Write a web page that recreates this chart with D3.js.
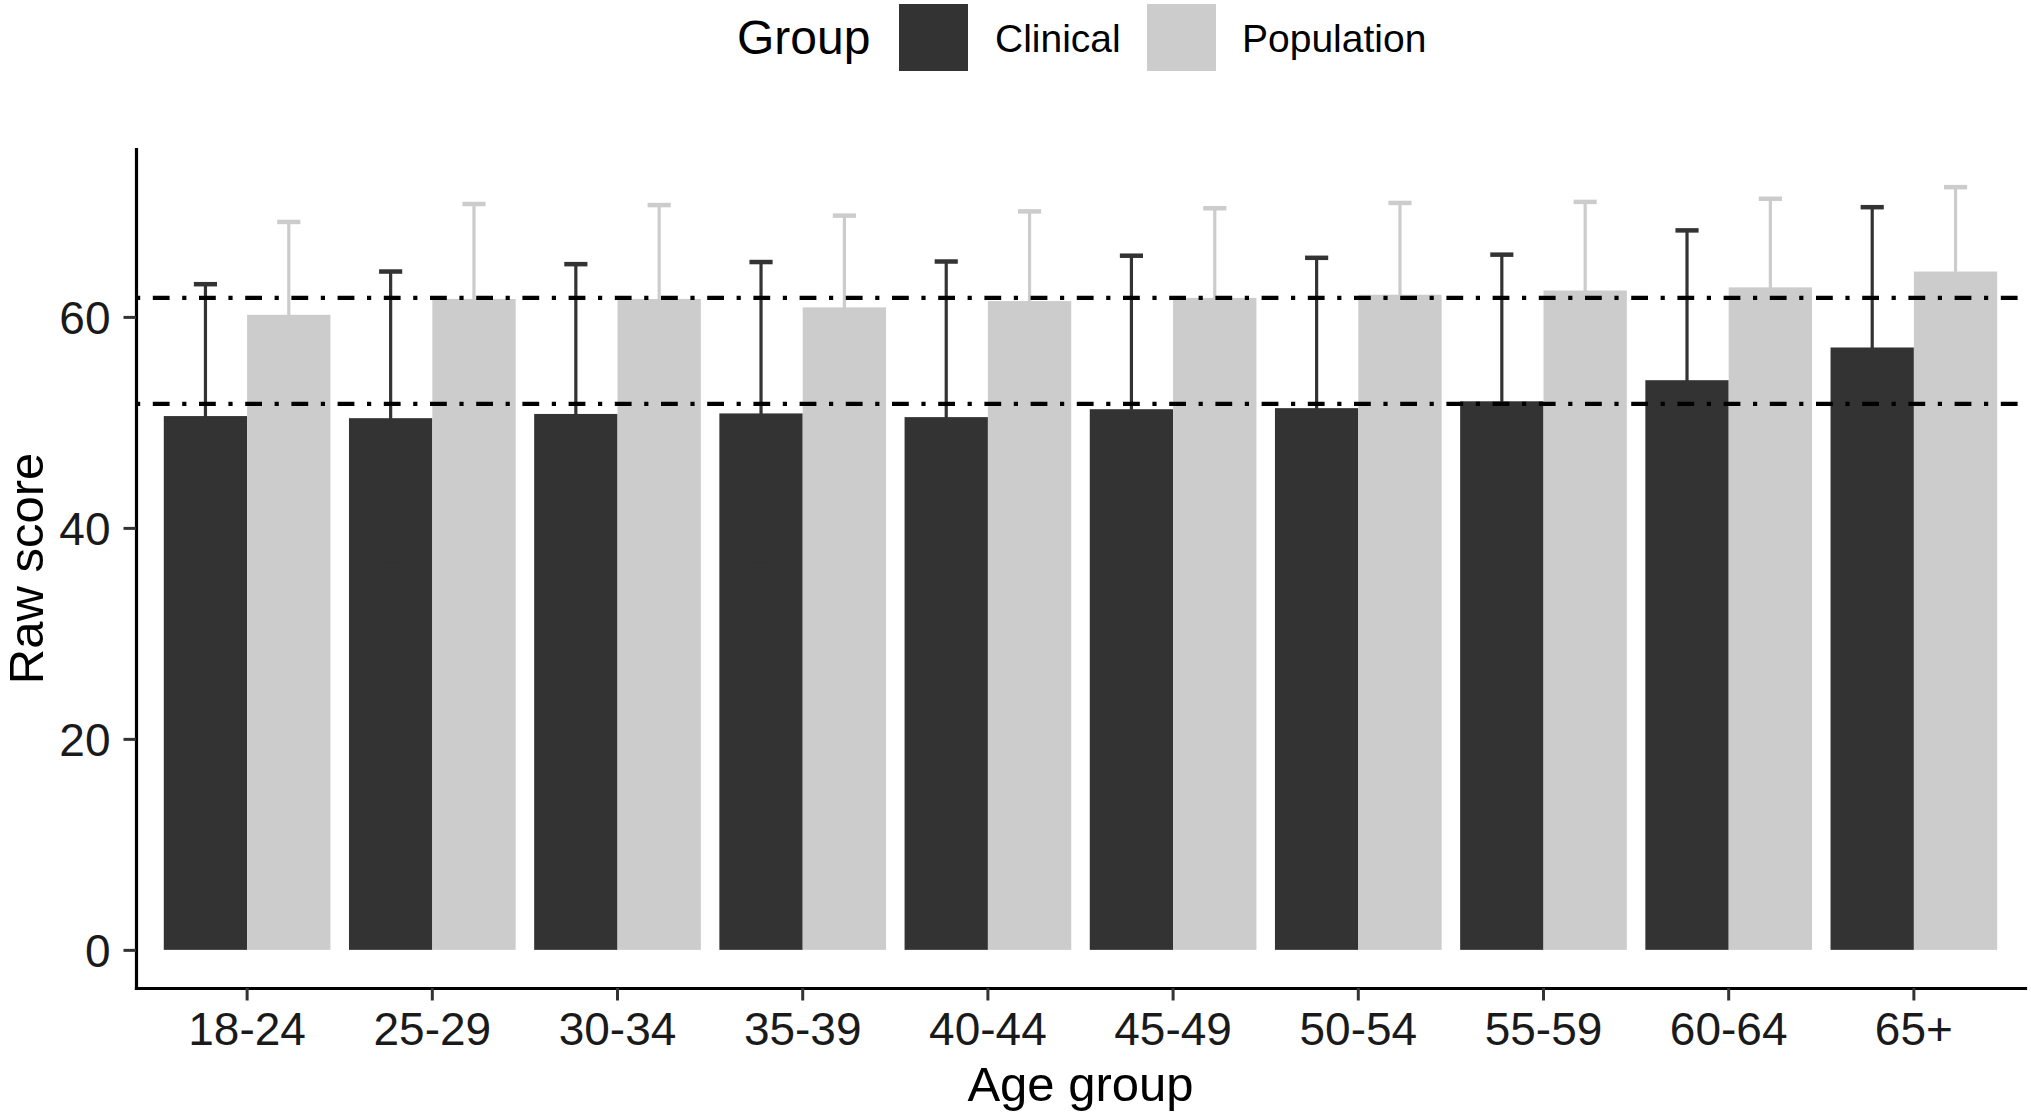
<!DOCTYPE html>
<html>
<head>
<meta charset="utf-8">
<script src="https://cdn.jsdelivr.net/npm/d3@7"></script>
<style>
  html, body { margin: 0; padding: 0; background: #fff; }
  svg { display: block; font-family: "Liberation Sans", Arial, Helvetica, sans-serif; }
</style>
</head>
<body>
<svg id="chart" width="2031" height="1118"></svg>
<script>
// ---- data ----
const categories = ["18-24", "25-29", "30-34", "35-39", "40-44", "45-49", "50-54", "55-59", "60-64", "65+"];
const groups = ["Clinical", "Population"];
const clinicalMean = [50.6, 50.4, 50.8, 50.85, 50.5, 51.25, 51.35, 52.0, 54.0, 57.1];
const clinicalSD   = [12.5, 13.9, 14.2, 14.35, 14.75, 14.55, 14.25, 13.9, 14.2, 13.3];
const populationMean = [60.2, 61.7, 61.7, 60.9, 61.5, 61.8, 62.1, 62.5, 62.8, 64.3];
const populationSD   = [8.8, 9.0, 8.9, 8.7, 8.5, 8.5, 8.7, 8.4, 8.4, 8.0];
const refLines = [61.8, 51.75];
const yTicks = [0, 20, 40, 60];

// ---- build table ----
const rows = [];
categories.forEach((c, i) => {
  rows.push({ cat: c, group: "Clinical", mean: clinicalMean[i], sd: clinicalSD[i] });
  rows.push({ cat: c, group: "Population", mean: populationMean[i], sd: populationSD[i] });
});

const svg = d3.select("#chart");
const panel = { left: 136, right: 2025, top: 149, bottom: 988 };

const maxV = d3.max(rows, d => d.mean + d.sd);
const y = d3.scaleLinear()
  .domain([-0.05 * maxV, maxV * 1.05])
  .range([panel.bottom, panel.top]);

const x = d3.scaleBand()
  .domain(categories)
  .range([panel.left, panel.right])
  .paddingInner(0)
  .paddingOuter(0.1);
const step = x.step();
const xg = d3.scaleBand().domain(groups).range([-0.45 * step, 0.45 * step]);
const color = d3.scaleOrdinal().domain(groups).range(["#333333", "#cccccc"]);

// ---- bars ----
svg.append("g").selectAll("rect")
  .data(rows)
  .join("rect")
  .attr("x", d => x(d.cat) + step / 2 + xg(d.group))
  .attr("width", xg.bandwidth())
  .attr("y", d => y(d.mean))
  .attr("height", d => y(0) - y(d.mean))
  .attr("fill", d => color(d.group));

// ---- error bars ----
const capHalf = 0.125 * step / 2;
const cx = d => x(d.cat) + step / 2 + xg(d.group) + xg.bandwidth() / 2;
const eb = svg.append("g").selectAll("g")
  .data(rows)
  .join("g")
  .attr("stroke", d => color(d.group))
  .attr("stroke-width", 3.2)
  .attr("fill", "none");
eb.append("line")
  .attr("x1", cx).attr("x2", cx)
  .attr("y1", d => y(d.mean - d.sd))
  .attr("y2", d => y(d.mean + d.sd));
eb.append("line")
  .attr("x1", d => cx(d) - capHalf)
  .attr("x2", d => cx(d) + capHalf)
  .attr("y1", d => y(d.mean + d.sd))
  .attr("y2", d => y(d.mean + d.sd))
  .attr("stroke-width", 4.5);
eb.append("line")
  .attr("x1", d => cx(d) - capHalf)
  .attr("x2", d => cx(d) + capHalf)
  .attr("y1", d => y(d.mean - d.sd))
  .attr("y2", d => y(d.mean - d.sd))
  .attr("stroke-width", 4.5);

// ---- reference dot-dash lines ----
svg.append("g").selectAll("line")
  .data(refLines)
  .join("line")
  .attr("x1", panel.left)
  .attr("x2", panel.right)
  .attr("y1", d => y(d))
  .attr("y2", d => y(d))
  .attr("stroke", "#000")
  .attr("stroke-width", 4.2)
  .attr("stroke-dasharray", "4.2,12.6,16.8,12.6");

// ---- axes ----
const yAxis = svg.append("g")
  .attr("transform", `translate(${panel.left},0)`)
  .call(d3.axisLeft(y).tickValues(yTicks).tickSize(12.5).tickSizeOuter(0).tickPadding(13));
const xAxis = svg.append("g")
  .attr("transform", `translate(0,${panel.bottom})`)
  .call(d3.axisBottom(x).tickSize(12.5).tickSizeOuter(0).tickPadding(10));

[yAxis, xAxis].forEach(a => {
  a.select(".domain").attr("stroke", "#000").attr("stroke-width", 3.2).attr("stroke-linecap", "square");
  a.selectAll(".tick line").attr("stroke", "#333").attr("stroke-width", 3);
  a.selectAll(".tick text")
    .attr("fill", "#1a1a1a")
    .style("font-size", "46px")
    .style("font-family", "'Liberation Sans', Arial, sans-serif");
});
yAxis.selectAll(".tick text").attr("dy", "0.36em");
xAxis.selectAll(".tick text").attr("dy", "0.75em");

// ---- axis titles ----
svg.append("text")
  .attr("x", (panel.left + panel.right) / 2)
  .attr("y", 1101)
  .attr("text-anchor", "middle")
  .style("font-size", "49px")
  .attr("fill", "#000")
  .text("Age group");
svg.append("text")
  .attr("transform", `translate(43,${(panel.top + panel.bottom) / 2}) rotate(-90)`)
  .attr("text-anchor", "middle")
  .style("font-size", "49px")
  .attr("fill", "#000")
  .text("Raw score");

// ---- legend ----
const legend = svg.append("g");
legend.append("text")
  .attr("x", 737).attr("y", 54)
  .style("font-size", "48px")
  .attr("fill", "#000")
  .text("Group");
const keyX = [899, 1147];
const labX = [995, 1242];
groups.forEach((g, i) => {
  legend.append("rect")
    .attr("x", keyX[i]).attr("y", 4)
    .attr("width", 69).attr("height", 67)
    .attr("fill", color(g));
  legend.append("text")
    .attr("x", labX[i]).attr("y", 52)
    .style("font-size", "39px")
    .attr("fill", "#000")
    .text(g);
});
</script>
</body>
</html>
